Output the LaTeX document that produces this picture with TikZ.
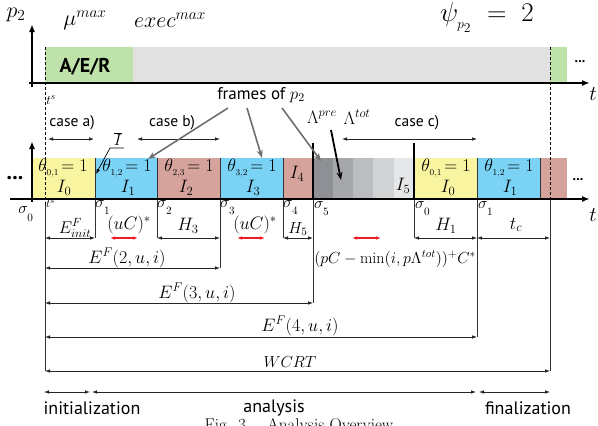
\RequirePackage{fix-cm}
\documentclass[tikz,border=0pt]{standalone}
\usepackage{fontspec}
\newfontfamily\lab{PT Sans}
\usetikzlibrary{arrows.meta}
\definecolor{cyel}{RGB}{248,244,160}
\definecolor{cblu}{RGB}{122,210,245}
\definecolor{cred}{RGB}{214,162,156}
\definecolor{cgrn}{RGB}{190,226,170}
\definecolor{cgry}{RGB}{225,225,225}
\definecolor{gA}{RGB}{143,144,149}
\definecolor{gB}{RGB}{166,167,171}
\definecolor{gC}{RGB}{188,189,192}
\definecolor{gD}{RGB}{209,210,212}
\definecolor{gE}{RGB}{230,231,232}
\definecolor{arrgray}{RGB}{110,110,113}
\definecolor{cdimred}{RGB}{237,28,36}
\newcommand{\sg}[1]{\sigma_{\raisebox{-5pt}{$\scriptstyle #1$}}}
\begin{document}
\begin{tikzpicture}[x=1pt,y=-1pt,
  dimline/.style={draw=black!85, line width=0.8pt, {Latex[length=5pt,width=3.6pt]}-{Latex[length=5pt,width=3.6pt]}},
  reddim/.style={dimline, draw=cdimred, line width=1.2pt},
  vline/.style={draw=black!80, line width=0.8pt},
  thickv/.style={draw=black, line width=1.6pt},
  axisline/.style={line width=1.8pt, -{Latex[length=8pt,width=6pt]}},
  grayarr/.style={draw=arrgray, line width=1.6pt, -{Stealth[length=8pt,width=6pt]}},
  mth/.style={inner sep=0pt, font=\fontsize{18}{20}\selectfont},
  big/.style={inner sep=0pt, font=\fontsize{22}{24}\selectfont},
  sml/.style={inner sep=0pt, font=\fontsize{16}{18}\selectfont},
  sans/.style={inner sep=0pt, font=\lab\fontsize{15.5}{17}\selectfont},
  phase/.style={inner sep=0pt, font=\lab\fontsize{18}{20}\selectfont},
  ]
\useasboundingbox (0,0) rectangle (598,426);

% ---------- top timeline ----------
\fill[cgrn] (45,47) rectangle (133,83);
\fill[cgry] (133,47) rectangle (550,83);
\fill[cgrn] (550,47) rectangle (567,83);
\node[inner sep=0pt, font=\lab\bfseries\fontsize{20}{22}\selectfont] (aer) at (85,67) {A/E/R};
\node[inner sep=0pt, font=\lab\bfseries\fontsize{14}{16}\selectfont] (dotsA) at (580,62) {...};
\draw[axisline] (32,87) -- (32,24);
\draw[axisline] (29,83) -- (590,83);
\node[big] (p2) at (16,15) {$p_2$};
\node[inner sep=0pt, font=\fontsize{21}{23}\selectfont] (tA) at (593,94) {$t$};
\node[big] (mu) at (85,20) {$\mu^{max}$};
\node[big] (exec) at (170,20) {$exec^{max}$};
\node[inner sep=0pt, font=\fontsize{27}{30}\selectfont] (psi) at (487,18) {$\psi_{_{p_2}}\;=\;2$};
\node[inner sep=0pt, font=\fontsize{13}{15}\selectfont] (tsA) at (51,100) {$t^s$};

% ---------- boxes ----------
\fill[cyel] (33,158) rectangle (95,199);
\fill[cblu] (95,158) rectangle (157,199);
\fill[cred] (157,158) rectangle (220,199);
\fill[cblu] (220,158) rectangle (283,199);
\fill[cred] (283,158) rectangle (313,199);
\fill[gA] (313,158) rectangle (333,199);
\fill[gB] (333,158) rectangle (353,199);
\fill[gC] (353,158) rectangle (373,199);
\fill[gD] (373,158) rectangle (394,199);
\fill[gE] (394,158) rectangle (414,199);
\fill[cyel] (414,158) rectangle (477,199);
\fill[cblu] (477,158) rectangle (540,199);
\fill[cred] (540,158) rectangle (567,199);

\node[mth] (th0) at (63,168) {$\theta_{_{0,1}}\!=1$};
\node[mth] (i0) at (64,188) {$I_0$};
\node[mth] (th1) at (127,168) {$\theta_{_{1,2}}\!=1$};
\node[mth] (i1) at (128,188) {$I_1$};
\node[mth] (th2) at (189,168) {$\theta_{_{2,3}}\!=1$};
\node[mth] (i2) at (186,188) {$I_2$};
\node[mth] (th3) at (252,168) {$\theta_{_{3,2}}\!=1$};
\node[mth] (i3) at (253,188) {$I_3$};
\node[mth] (i4) at (297,174) {$I_4$};
\node[mth] (i5) at (403,186) {$I_5$};
\node[mth] (th4) at (446,168) {$\theta_{_{0,1}}\!=1$};
\node[mth] (i6) at (448,188) {$I_0$};
\node[mth] (th5) at (509,168) {$\theta_{_{1,2}}\!=1$};
\node[mth] (i7) at (510,188) {$I_1$};
\node[inner sep=0pt, font=\lab\bfseries\fontsize{22}{24}\selectfont] (dotsL) at (15,178) {...};
\node[inner sep=0pt, font=\lab\bfseries\fontsize{14}{16}\selectfont] (dotsR) at (578,180) {...};

% separators and verticals
\draw[vline] (95,158) -- (95,238);
\draw[vline] (157,158) -- (157,238);
\draw[vline] (220,158) -- (220,268);
\draw[vline] (283,158) -- (283,238);
\draw[vline] (313,199) -- (313,303);
\draw[vline] (414,199) -- (414,238);
\draw[vline] (477,158) -- (477,337);
\draw[vline] (540,158) -- (540,199);
\draw[vline] (550,199) -- (550,371);
\draw[vline] (45,205) -- (45,371);
\draw[thickv] (313,143) -- (313,199);
\draw[thickv] (414,143) -- (414,199);
\draw[densely dashed, line width=0.6pt] (45,47) -- (45,205);
\draw[densely dashed, line width=0.6pt] (550,47) -- (550,199);

% axis 2
\draw[axisline] (10,199) -- (590,199);
\draw[axisline] (32,202) -- (32,141);
\node[inner sep=0pt, font=\fontsize{21}{23}\selectfont] (tB) at (593,215) {$t$};

% sigma labels
\node[sml] (s0) at (26,214) {$\sg{0}$};
\node[sml, anchor=north west] (s1) at (95,200) {$\sg{1}$};
\node[sml, anchor=north west] (s2) at (157,200) {$\sg{2}$};
\node[sml, anchor=north west] (s3) at (220,200) {$\sg{3}$};
\node[sml, anchor=north west] (s4) at (283,200) {$\sg{4}$};
\node[sml, anchor=north west] (s5) at (314,201) {$\sg{5}$};
\node[sml, anchor=north west] (s6) at (415,201) {$\sg{0}$};
\node[sml, anchor=north west] (s7) at (478,201) {$\sg{1}$};
\node[inner sep=0pt, font=\fontsize{12}{14}\selectfont, anchor=north west] (tsB) at (46,199.5) {$t^s$};

% small dimension labels
\node[mth, font=\fontsize{17}{19}\selectfont] (einit) at (75,228) {$E^F_{init}$};
\node[mth] (uc1) at (129,225) {$(uC)^*$};
\node[mth] (h3) at (188,226) {$H_3$};
\node[mth] (uc2) at (255,225) {$(uC)^*$};
\node[mth, font=\fontsize{16}{18}\selectfont] (h5) at (298,229) {$H_5$};
\node[mth] (h1) at (446,226) {$H_1$};
\node[mth] (tc) at (516,225) {$t_c$};
\node[mth, font=\fontsize{16}{18}\selectfont] (pc) at (395,259) {$(pC-\min(i,p\Lambda^{tot}))^{+}C^{*}$};

\draw[dimline] (45,238) -- (95,238);
\draw[dimline] (157,238) -- (220,238);
\draw[dimline] (283,238) -- (313,238);
\draw[dimline] (414,238) -- (477,238);
\draw[dimline] (477,238) -- (550,238);
\draw[reddim] (110,238) -- (138,238);
\draw[reddim] (237,238) -- (265,238);
\draw[reddim] (352,238) -- (381,238);

\node[mth] (e2) at (127,258) {$E^F(2,u,i)$};
\draw[dimline] (45,268) -- (220,268);
\node[mth] (e3) at (197,293) {$E^F(3,u,i)$};
\draw[dimline] (45,303) -- (313,303);
\node[mth] (e4) at (300,326) {$E^F(4,u,i)$};
\draw[dimline] (45,337) -- (477,337);
\node[sml] (wcrt) at (290,362) {$WCRT$};
\draw[dimline] (45,371) -- (550,371);

% phases
\draw[dimline] (44,392) -- (90,392);
\draw[dimline] (92,392) -- (476,392);
\draw[dimline] (479,392) -- (550,392);
\node[phase] (init) at (92,408) {initialization};
\node[phase] (anal) at (274,408) {analysis};
\node[phase] (fin) at (528,408) {finalization};
\node[inner sep=0pt, font=\fontsize{17}{19}\selectfont, anchor=north] (cap) at (299,418) {Fig. 3.\quad Analysis Overview};

% cases
\node[sans] (ca) at (72,123) {case a)};
\draw[dimline] (48,139) -- (94,139);
\node[sans] (cb) at (172,123) {case b)};
\draw[dimline] (137,139) -- (220,139);
\node[sans] (cc) at (417,123) {case c)};
\draw[dimline] (342,139) -- (477,139);

% frames of p2
\node[inner sep=0pt, font=\lab\fontsize{17}{19}\selectfont] (frames) at (261,95) {frames of $p_2$};
\coordinate (fa) at (228,108);
\coordinate (fb) at (247,108);
\coordinate (fc) at (282,108);
\coordinate (ta) at (148,159);
\coordinate (tb) at (262,158);
\coordinate (tcc) at (321,161);
\draw[grayarr] (fa) -- (ta);
\draw[grayarr] (fb) -- (tb);
\draw[grayarr] (fc) -- (tcc);

% Lambda
\node[inner sep=0pt, font=\fontsize{18}{20}\selectfont] (lpre) at (322,117) {$\Lambda^{pre}$};
\node[inner sep=0pt, font=\fontsize{18}{20}\selectfont] (ltot) at (357,117) {$\Lambda^{tot}$};
\coordinate (lfrom) at (331,130);
\coordinate (lto) at (341,180);
\draw[line width=1.8pt, -{Stealth[length=8pt,width=6pt]}] (lfrom) -- (lto);

% I bar leader
\node[inner sep=0pt, font=\fontsize{16}{18}\selectfont] (ibar) at (118,139) {$\overline{I}$};
\coordinate (ib1) at (124,148);
\coordinate (ib2) at (110,148);
\coordinate (ib3) at (96,174);
\draw[line width=0.7pt, -{Latex[length=5pt,width=3.6pt]}] (ib1) -- (ib2) -- (ib3);
\end{tikzpicture}
\end{document}
